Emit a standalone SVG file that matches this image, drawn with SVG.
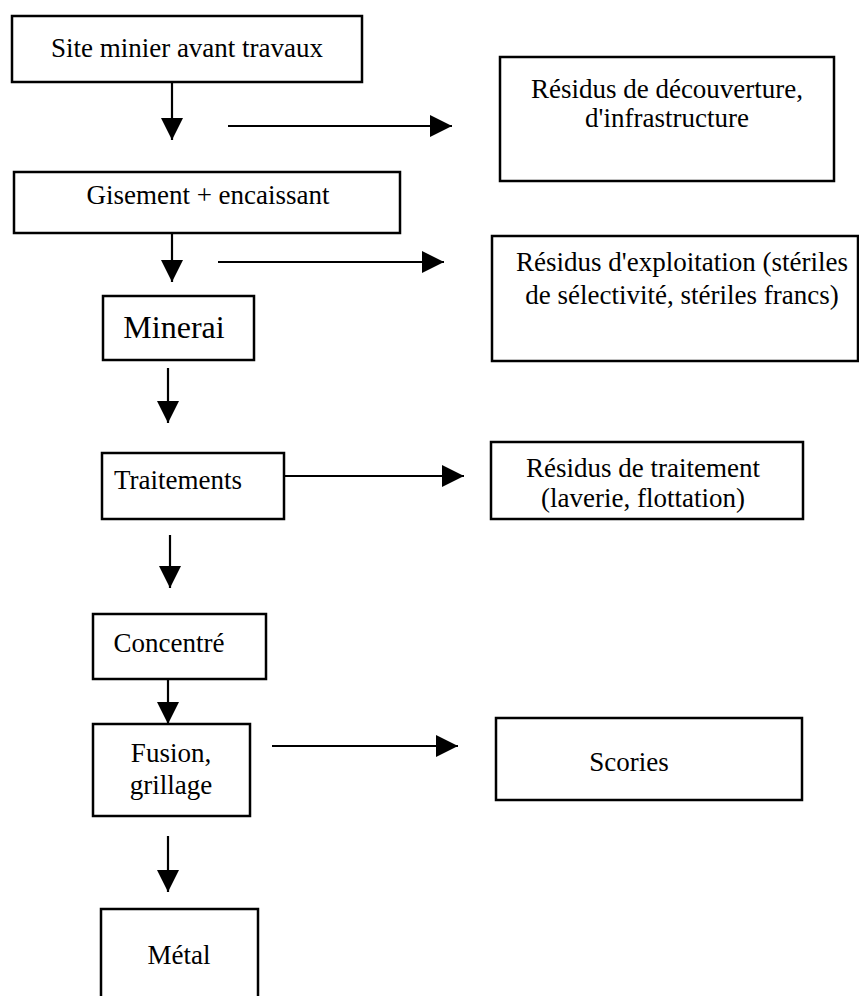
<svg xmlns="http://www.w3.org/2000/svg" width="859" height="996" viewBox="0 0 859 996">
<style>
rect{fill:#fff;stroke:#000;stroke-width:2.5}
text{font-size:27px;fill:#000;text-anchor:middle}
.c line{stroke:#000;stroke-width:2.2}
</style>
<defs>
<marker id="ah" markerUnits="userSpaceOnUse" markerWidth="24" markerHeight="22" refX="22" refY="11" orient="auto">
<polygon points="0,0 22,11 0,22" fill="#000"/>
</marker>
</defs>
<rect x="0" y="0" width="859" height="996" style="stroke:none"/>
<g font-family="Liberation Serif, DejaVu Serif, serif">
<g id="site"><rect x="12" y="16" width="350" height="66"/><text x="187" y="57">Site minier avant travaux</text></g>
<g id="residus-decouverture"><rect x="500" y="57" width="334" height="124"/><text x="667" y="98">Résidus de découverture,</text><text x="667" y="127">d'infrastructure</text></g>
<g id="gisement"><rect x="14" y="172" width="386" height="61"/><text x="208" y="204">Gisement + encaissant</text></g>
<g id="residus-exploitation"><rect x="492" y="236" width="366" height="125"/><text x="682" y="271">Résidus d'exploitation (stériles</text><text x="682" y="304">de sélectivité, stériles francs)</text></g>
<g id="minerai"><rect x="103" y="296" width="151" height="64"/><text x="174" y="338" style="font-size:32px">Minerai</text></g>
<g id="traitements"><rect x="102" y="453" width="182" height="66"/><text x="178" y="489">Traitements</text></g>
<g id="residus-traitement"><rect x="491" y="442" width="312" height="77"/><text x="643" y="477">Résidus de traitement</text><text x="643" y="507">(laverie, flottation)</text></g>
<g id="concentre"><rect x="93" y="614" width="173" height="65"/><text x="169" y="652">Concentré</text></g>
<g id="fusion"><rect x="93" y="724" width="157" height="92"/><text x="171" y="762">Fusion,</text><text x="171" y="794">grillage</text></g>
<g id="scories"><rect x="496" y="718" width="306" height="82"/><text x="629" y="771">Scories</text></g>
<g id="metal"><rect x="101" y="909" width="157" height="100"/><text x="179" y="964">Métal</text></g>
</g>
<g id="connectors" class="c">
<line x1="172" y1="82" x2="172" y2="140" marker-end="url(#ah)"/>
<line x1="228" y1="126" x2="452" y2="126" marker-end="url(#ah)"/>
<line x1="172" y1="233" x2="172" y2="282" marker-end="url(#ah)"/>
<line x1="218" y1="262" x2="444" y2="262" marker-end="url(#ah)"/>
<line x1="168" y1="368" x2="168" y2="423" marker-end="url(#ah)"/>
<line x1="284" y1="476" x2="464" y2="476" marker-end="url(#ah)"/>
<line x1="170" y1="535" x2="170" y2="588" marker-end="url(#ah)"/>
<line x1="168" y1="679" x2="168" y2="724" marker-end="url(#ah)"/>
<line x1="272" y1="746" x2="458" y2="746" marker-end="url(#ah)"/>
<line x1="168" y1="836" x2="168" y2="892" marker-end="url(#ah)"/>
</g>
</svg>
